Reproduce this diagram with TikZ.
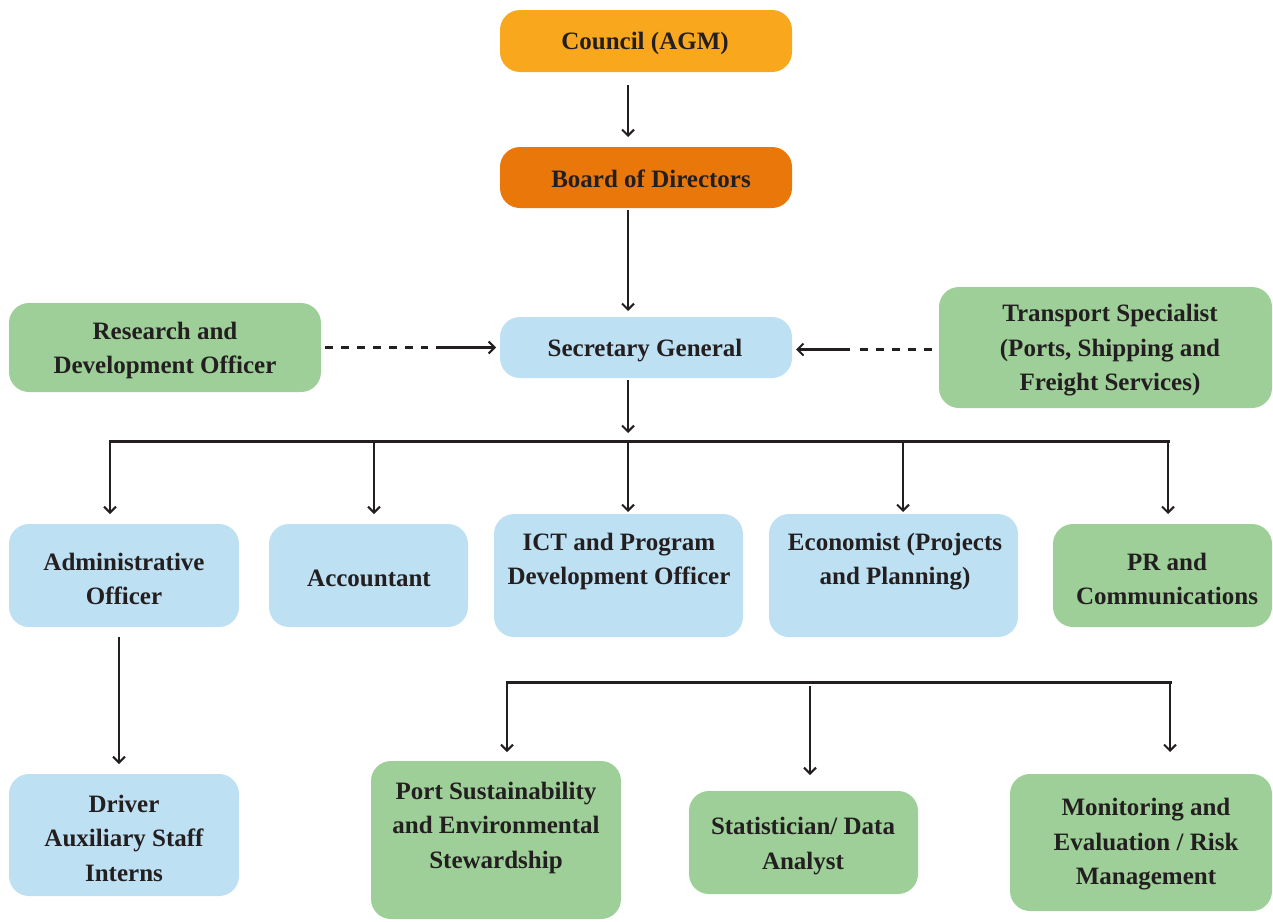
\documentclass[tikz,border=0pt]{standalone}
\usepackage{fontspec}
\setmainfont{Liberation Serif}
\usetikzlibrary{arrows.meta}

\definecolor{ink}{RGB}{35,31,32}
\definecolor{councilc}{RGB}{249,168,29}
\definecolor{boardc}{RGB}{234,119,10}
\definecolor{bluec}{RGB}{190,224,243}
\definecolor{greenc}{RGB}{158,207,152}

\tikzset{
  unitbox/.style={rounded corners=20pt, inner sep=0pt, outer sep=0pt, draw=none},
  lbl/.style={font=\fontsize{25}{34.5}\selectfont\bfseries, text=ink, align=center, inner sep=0pt, yshift=-2.5pt},
  link/.style={draw=ink, line width=2.1pt, -{Straight Barb[length=6pt,width=12pt]}},
  dashlink/.style={draw=ink, line width=2.1pt, dash pattern=on 8pt off 8pt},
  busline/.style={draw=ink, line width=3pt, line cap=rect},
}

% box: fill, centre, width, height, name
\newcommand{\orgunit}[6]{%
  \node[unitbox, fill=#1, minimum width=#4, minimum height=#5] (#6) at (#2,#3) {};}

\begin{document}
\begin{tikzpicture}[x=1pt,y=-1pt]
\useasboundingbox (0,0) rectangle (1273,921);

% ---- boxes ----
\orgunit{councilc}{646}{41}{292pt}{62pt}{council}
\orgunit{boardc}{646}{177.5}{292pt}{61pt}{board}
\orgunit{bluec}{646}{347.5}{292pt}{61pt}{sg}
\orgunit{greenc}{165}{347.5}{312pt}{89pt}{rd}
\orgunit{greenc}{1105.5}{347.5}{333pt}{121pt}{trans}
\orgunit{bluec}{124}{575.5}{230pt}{103pt}{admin}
\orgunit{bluec}{368.5}{575.5}{199pt}{103pt}{acct}
\orgunit{bluec}{618.5}{575.5}{249pt}{123pt}{ict}
\orgunit{bluec}{893.5}{575.5}{249pt}{123pt}{econ}
\orgunit{greenc}{1162.5}{575.5}{219pt}{103pt}{pr}
\orgunit{bluec}{124}{835}{230pt}{122pt}{driver}
\orgunit{greenc}{496}{840}{250pt}{158pt}{port}
\orgunit{greenc}{803.5}{842.5}{229pt}{103pt}{stat}
\orgunit{greenc}{1141}{842.5}{262pt}{137pt}{mon}

% ---- labels ----
\node[lbl] (council-t) at (645,41) {Council (AGM)};
\node[lbl] (board-t) at (651,176) {Board of Directors};
\node[lbl] (sg-t) at (645,348) {Secretary General};
\node[lbl] (rd-t) at (165,348) {Research and\\Development Officer};
\node[lbl] (trans-t) at (1110,348) {Transport Specialist\\(Ports, Shipping and\\Freight Services)};
\node[lbl] (admin-t) at (124,576.5) {Administrative\\Officer};
\node[lbl] (acct-t) at (369,576) {Accountant};
\node[lbl] (ict-t) at (619,559) {ICT and Program\\Development Officer};
\node[lbl] (econ-t) at (895,559) {Economist (Projects\\and Planning)};
\node[lbl] (pr-t) at (1167,576.5) {PR and\\Communications};
\node[lbl] (driver-t) at (124,835.5) {Driver\\Auxiliary Staff\\Interns};
\node[lbl] (port-t) at (496,825) {Port Sustainability\\and Environmental\\Stewardship};
\node[lbl] (stat-t) at (803,843.5) {Statistician/ Data\\Analyst};
\node[lbl] (mon-t) at (1146,842) {Monitoring and\\Evaluation / Risk\\Management};

% ---- chain of command ----
\draw[link, shorten <=13pt, shorten >=10pt] ([xshift=-18pt]council.south) -- ([xshift=-18pt]board.north);
\draw[link, shorten <=2pt, shorten >=6pt] ([xshift=-18pt]board.south) -- ([xshift=-18pt]sg.north);

% ---- advisory links ----
\coordinate (rdA) at (428,347.5);
\coordinate (rdB) at (436,347.5);
\draw[dashlink, shorten <=4pt] (rd.east) -- (rdA);
\draw[link, shorten >=4pt] (rdB) -- (sg.west);
\coordinate (trA) at (857,349.5);
\coordinate (trB) at (850,349.5);
\draw[dashlink, shorten <=7pt] (trans.west |- trA) -- (trA);
\draw[link, shorten >=4pt] (trB) -- (sg.east |- trB);

% ---- first tier ----
\coordinate (busA) at (628,441);
\coordinate (busL) at (110,441);
\coordinate (busR) at (1168,441);
\draw[link, shorten <=2pt, shorten >=8pt] ([xshift=-18pt]sg.south) -- (busA);
\draw[busline] (busL) -- (busR);
\draw[link, shorten >=10pt] (busL) -- (busL |- admin.north);
\draw[link, shorten >=10pt] (374,441) -- (374,441 |- acct.north);
\draw[link, shorten >=2pt] (busA) -- (busA |- ict.north);
\draw[link, shorten >=2pt] (903,441) -- (903,441 |- econ.north);
\draw[link, shorten >=10pt] (busR) -- (busR |- pr.north);

% ---- second tier ----
\draw[link, shorten <=10pt, shorten >=10pt] (119,0 |- admin.south) -- (119,0 |- driver.north);
\coordinate (bus2L) at (507,682);
\coordinate (bus2M) at (810,682);
\coordinate (bus2R) at (1170,682);
\draw[busline] (bus2L) -- (bus2R);
\draw[link, shorten >=9pt] (bus2L) -- (bus2L |- port.north);
\draw[link, shorten <=4pt, shorten >=16pt] (bus2M) -- (bus2M |- stat.north);
\draw[link, shorten >=22pt] (bus2R) -- (bus2R |- mon.north);
\end{tikzpicture}
\end{document}
